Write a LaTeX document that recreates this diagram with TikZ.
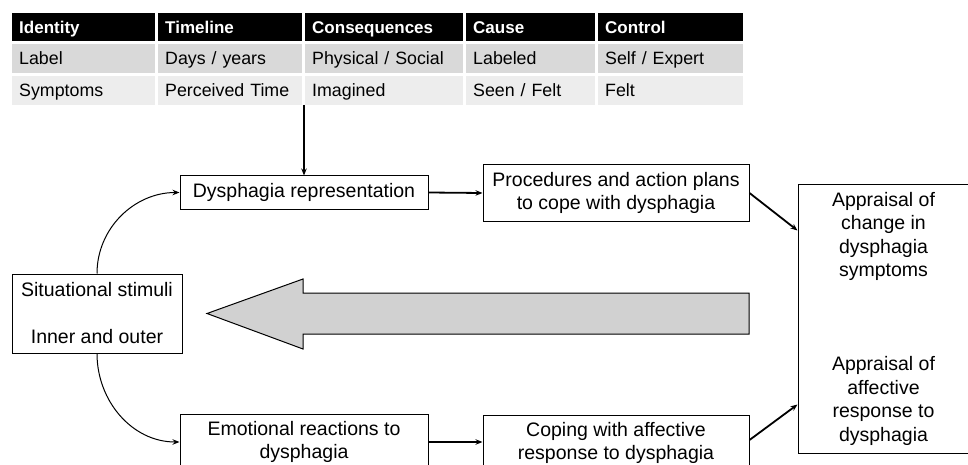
\documentclass[tikz,border=0pt]{standalone}
\usepackage{fontspec}
\setmainfont{Liberation Sans}
\usetikzlibrary{arrows.meta,positioning,calc}

\begin{document}
\begin{tikzpicture}[x=1pt,y=-1pt,>={Stealth[length=7pt,width=5.5pt]},
  hdcell/.style={fill=black,text=white,font=\fontsize{17}{20}\selectfont\bfseries,
    inner xsep=7pt,inner ysep=0pt,minimum height=28pt,anchor=north west,
    text height=15pt,text depth=2.5pt},
  lbcell/.style={fill=black!15,font=\fontsize{17.8}{20}\selectfont,
    inner xsep=7pt,inner ysep=0pt,minimum height=29pt,anchor=north west,
    text height=15pt,text depth=2.5pt},
  sycell/.style={lbcell,fill=black!7},
  procbox/.style={draw,line width=1pt,align=center,inner sep=0pt,
    font=\fontsize{19.5}{23.5}\selectfont},
  flow/.style={->,line width=1.8pt},
  loop/.style={->,line width=1pt}]
  \useasboundingbox (0,0) rectangle (968,465);
  \clip (0,0) rectangle (968,465);

  % table of illness representation attributes
  \foreach \x/\w/\hd/\lb/\sy [count=\i] in
    {12/143/Identity/Label/Symptoms,
     158/144/Timeline/{Days / years}/{Perceived Time},
     305/158/Consequences/{Physical / Social}/Imagined,
     466/129/Cause/Labeled/{Seen / Felt},
     598/145/Control/{Self / Expert}/Felt}
  {
    \pgfmathsetmacro\tw{\w-14}
    \node[hdcell,text width=\tw pt] (hd\i) at (\x,13) {\hd};
    \node[lbcell,text width=\tw pt] (lb\i) at (\x,44) {\lb};
    \node[sycell,text width=\tw pt] (sy\i) at (\x,76) {\sy};
  }
  \coordinate (tbot) at (304,105);

  % boxes
  \node[procbox,minimum width=248pt,minimum height=33pt] (rep) at (304,192.5)
    {Dysphagia representation};
  \node[procbox,minimum width=266pt,minimum height=56pt] (proc) at (616,193)
    {Procedures and action plans\\to cope with dysphagia};
  \node[procbox,minimum width=171pt,minimum height=269pt] (appr) at (883.5,318.5)
    {Appraisal of\\change in\\dysphagia\\symptoms\\[70.5pt]Appraisal of\\affective\\response to\\dysphagia};
  \node[procbox,minimum width=170pt,minimum height=79pt] (sit) at (97,313.5)
    {Situational stimuli\\[23.5pt]Inner and outer};
  \node[procbox,minimum width=248pt,minimum height=56pt] (emo) at (304,442)
    {Emotional reactions to\\dysphagia};
  \node[procbox,minimum width=266pt,minimum height=56pt] (cope) at (616,443)
    {Coping with affective\\response to dysphagia};

  % feedback arrow
  \draw[fill=black!18,line width=1pt] (749,293) -- (303,293) -- (303,279)
    -- (207,313.5) -- (303,349) -- (303,334) -- (749,334) -- cycle;

  % connectors
  \draw[flow] (tbot) -- (rep.north);
  \draw[flow] (rep.east) -- (proc.west);
  \draw[flow] (emo.east) -- (cope.west |- emo.east);
  \draw[flow] (proc.east) -- ([yshift=88pt]appr.west);
  \draw[flow] ([yshift=3pt]cope.east) -- ([yshift=-86pt]appr.west);
  \draw[loop] (sit.north) to[out=90,in=180] (rep.west);
  \draw[loop] (sit.south) to[out=-90,in=180] (emo.west);
\end{tikzpicture}
\end{document}
